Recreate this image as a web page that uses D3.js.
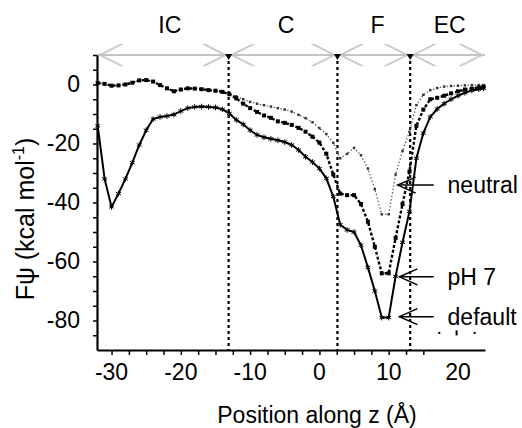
<!DOCTYPE html>
<html>
<head>
<meta charset="utf-8">
<script src="https://cdn.jsdelivr.net/npm/d3@7"></script>
<style>
body { margin: 0; background: #fff; }
text { font-family: "Liberation Sans", Arial, sans-serif; fill: #000; }
</style>
</head>
<body>
<script>
// positions along z (Angstrom) where the profiles were sampled
let zPos = [-32,-31,-30,-29,-28,-27,-26,-25,-24,-23,-22,-21,-20,-19,-18,-17,-16,-15,-14,-13,
            -12,-11,-10,-9,-8,-7,-6,-5,-4,-3,-2,-1,0,1,2,3,4,5,6,7,8,9,10,11,12,13,14,15,16,17,18,19,20,21,22,23,23.7]

let defaultVals = [-14,-32,-41.5,-37,-32,-26.5,-20.5,-15.5,-11.7,-11,-10.7,-10.2,-9,-8,-7.6,-7.5,-7.6,-7.8,-8.4,-9.8,
                   -12,-13.5,-15.5,-17.1,-17.9,-18.4,-18.9,-19.5,-20.5,-22.2,-24.5,-26.3,-28.5,-31.8,-38,-47.5,-49.3,-50,-54.5,-62,
                   -70,-79,-79,-65,-53.5,-43,-25,-16.5,-11,-8.3,-6.5,-5,-3.8,-2.8,-2,-1.6,-1.3]

let ph7Vals = [0.5,0.2,-0.4,-0.3,0,0.6,1.4,1.5,1,-0.2,-1.3,-2.3,-1.7,-1.3,-1.4,-1.6,-1.9,-2.1,-2.5,-3.3,
               -4.7,-6.5,-8,-9.3,-10.5,-11.3,-12.5,-13,-13.7,-14.7,-16,-17.7,-19.7,-23.5,-30.5,-37,-37.5,-37.5,-40.5,-46.5,
               -55,-64,-64,-52,-40.5,-29.5,-14,-8.5,-5,-4.5,-3.8,-3,-2.3,-1.7,-1.4,-1,-0.7]

let neutralVals = [0.5,0.2,-0.4,-0.3,0,0.6,1.4,1.5,1,-0.2,-1.3,-2.3,-1.7,-1.3,-1.4,-1.6,-1.9,-2.1,-2.5,-3.3,
                   -4,-5,-5.9,-6.5,-7,-7.5,-8,-8.5,-9.2,-10.3,-11.4,-12.8,-14.8,-16.8,-19.8,-25,-23.5,-21.5,-24,-28.5,
                   -35.5,-44,-44,-30.5,-22.5,-16,-7,-3.5,-1.9,-1.2,-0.7,-0.5,-0.4,-0.3,-0.2,-0.2,-0.2]

// membrane regions (boundaries in z) and their labels
let bounds = [-32.1, -13.1, 2.6, 13.1, 23.9]
let regionNames = ["IC", "C", "F", "EC"]
let regionLabelZ = [-21.6, -4.8, 8.4, 18.8]

// axis ticks
let yLabelTicks = [0, -20, -40, -60, -80]
let yMinorTicks = [10,5,0,-5,-10,-15,-20,-25,-30,-35,-40,-45,-50,-55,-60,-65,-70,-75,-80,-85]
let xLabelTicks = [-30, -20, -10, 0, 10, 20]
let xMinorTicks = [-30,-27.5,-25,-22.5,-20,-17.5,-15,-12.5,-10,-7.5,-5,-2.5,0,2.5,5,7.5,10,12.5,15]

// arrow annotations on the right
let annNames = ["neutral", "pH 7", "default"]
let annTipZ = [11.3, 11.55, 11.55]
let annV = [-34.1, -65.2, -78.7]
let annEndZ = 16.5
let annTextZ = 18.5

// leftover specks under "default"
let speckZ = [17.3, 19.8, 22.4]
let speckH = [2, 5, 2]
let speckV = -84.2

let width = 522
let height = 428
let fs = 23

let svg = d3.select("body")
            .append("svg")
            .attr("width", width)
            .attr("height", height)

let xScale = d3.scaleLinear().domain([-32.1, 23.9]).range([97, 485])
let yScale = d3.scaleLinear().domain([-90, 10]).range([350, 55])

let topY = yScale(10)

// top region bar with double headed arrows
svg.append("line")
    .attr("x1", xScale(bounds[0]))
    .attr("x2", xScale(bounds[4]))
    .attr("y1", topY)
    .attr("y2", topY)
    .attr("stroke", "#b0b0b0")
    .attr("stroke-width", 1.6)

let head = (tipX, dir, off) => {
    let L = 22, H = 11
    return "M" + (tipX + dir * (L + off)) + "," + (topY - H) +
           "L" + (tipX + dir * off) + "," + topY +
           "L" + (tipX + dir * (L + off)) + "," + (topY + H)
}

for (let i = 0; i < 4; i++) {
    let a = xScale(bounds[i]) + 2
    let b = xScale(bounds[i + 1]) - 2
    for (let off of [0, 2]) {
        svg.append("path").attr("d", head(a, 1, off))
            .attr("fill", "none").attr("stroke", "#c2c2c2").attr("stroke-width", 1)
        svg.append("path").attr("d", head(b, -1, off))
            .attr("fill", "none").attr("stroke", "#c2c2c2").attr("stroke-width", 1)
    }
    svg.append("text")
        .attr("x", xScale(regionLabelZ[i]))
        .attr("y", 33)
        .attr("text-anchor", "middle")
        .attr("font-size", fs)
        .text(regionNames[i])
}

// dotted boundaries
let inner = bounds.slice(1, 4)
svg.selectAll(".bound")
    .data(inner)
    .enter()
    .append("line")
    .attr("class", "bound")
    .attr("x1", d => xScale(d))
    .attr("x2", d => xScale(d))
    .attr("y1", topY)
    .attr("y2", yScale(-90))
    .attr("stroke", "#000")
    .attr("stroke-width", 2.2)
    .attr("stroke-dasharray", "3,3")

svg.selectAll(".bmark")
    .data(inner)
    .enter()
    .append("path")
    .attr("class", "bmark")
    .attr("d", d3.symbol(d3.symbolTriangle, 22))
    .attr("transform", d => "translate(" + xScale(d) + "," + (topY + 1) + ") rotate(180)")
    .attr("fill", "#000")

// axes
let yAxis = d3.axisLeft(yScale)
                .tickValues(yMinorTicks)
                .tickSize(4)
                .tickSizeOuter(0)
                .tickPadding(13)
                .tickFormat(d => yLabelTicks.includes(d) ? String(d) : "")

let yg = svg.append("g")
    .attr("transform", "translate(" + xScale(-32.1) + ",0)")
    .call(yAxis)
yg.attr("font-size", fs).attr("font-family", null)
yg.select(".domain").attr("stroke-width", 2.2)
yg.selectAll(".tick line").attr("stroke-width", 1.5)

let xAxis = d3.axisBottom(xScale)
                .tickValues(xMinorTicks)
                .tickSize(5)
                .tickSizeOuter(0)
                .tickPadding(8)
                .tickFormat("")

let xg = svg.append("g")
    .attr("transform", "translate(0," + yScale(-90) + ")")
    .call(xAxis)
xg.select(".domain").attr("stroke-width", 2.2)
xg.selectAll(".tick line").attr("stroke-width", 1.5)

svg.selectAll(".xlab")
    .data(xLabelTicks)
    .enter()
    .append("text")
    .attr("class", "xlab")
    .attr("x", d => xScale(d))
    .attr("y", yScale(-90) + 30)
    .attr("text-anchor", "middle")
    .attr("font-size", fs)
    .text(d => String(d))

svg.append("text")
    .attr("x", 317)
    .attr("y", 423)
    .attr("text-anchor", "middle")
    .attr("font-size", fs)
    .text("Position along z (Å)")

let yt = svg.append("text")
    .attr("transform", "translate(34,219) rotate(-90)")
    .attr("text-anchor", "middle")
    .attr("font-size", 25)
yt.append("tspan").text("Fψ (kcal mol")
yt.append("tspan").attr("font-size", 16).attr("dy", -10).text("-1")
yt.append("tspan").attr("dy", 10).text(")")

// profiles
let series = [
    {name: "neutral", vals: neutralVals, stroke: "#555", width: 1.2, dash: "1.5,2", sym: d3.symbolSquare, size: 6, fill: "#333"},
    {name: "pH 7", vals: ph7Vals, stroke: "#000", width: 2.4, dash: "3,2", sym: d3.symbolSquare, size: 16, fill: "#000"},
    {name: "default", vals: defaultVals, stroke: "#000", width: 2, dash: null, sym: d3.symbolAsterisk, size: 22, fill: "none"}
]

let line = d3.line()
            .x(d => xScale(d.z))
            .y(d => yScale(d.v))

series.forEach(s => {
    let pts = zPos.map((z, i) => ({z: z, v: s.vals[i]}))
    svg.append("path")
        .datum(pts)
        .attr("d", line)
        .attr("fill", "none")
        .attr("stroke", s.stroke)
        .attr("stroke-width", s.width)
        .attr("stroke-dasharray", s.dash)
    svg.append("g")
        .selectAll("path")
        .data(pts)
        .enter()
        .append("path")
        .attr("d", d3.symbol(s.sym, s.size))
        .attr("transform", d => "translate(" + xScale(d.z) + "," + yScale(d.v) + ")")
        .attr("fill", s.fill)
        .attr("stroke", s.fill == "none" ? "#000" : null)
        .attr("stroke-width", 1)
})

// annotations
annNames.forEach((n, i) => {
    let tx = xScale(annTipZ[i])
    let ty = yScale(annV[i])
    svg.append("line")
        .attr("x1", tx).attr("x2", xScale(annEndZ))
        .attr("y1", ty).attr("y2", ty)
        .attr("stroke", "#000").attr("stroke-width", 1.5)
    svg.append("path")
        .attr("d", "M" + (tx + 18) + "," + (ty - 8) + "L" + tx + "," + ty + "L" + (tx + 18) + "," + (ty + 8))
        .attr("fill", "none").attr("stroke", "#000").attr("stroke-width", 1.5)
    svg.append("text")
        .attr("x", xScale(annTextZ))
        .attr("y", ty + 8)
        .attr("font-size", fs)
        .text(n)
})

svg.selectAll(".speck")
    .data(speckZ)
    .enter()
    .append("rect")
    .attr("class", "speck")
    .attr("x", d => xScale(d) - 1)
    .attr("y", (d, i) => yScale(speckV) - speckH[i] / 2)
    .attr("width", 2)
    .attr("height", (d, i) => speckH[i])
    .attr("fill", "#000")
</script>
</body>
</html>
